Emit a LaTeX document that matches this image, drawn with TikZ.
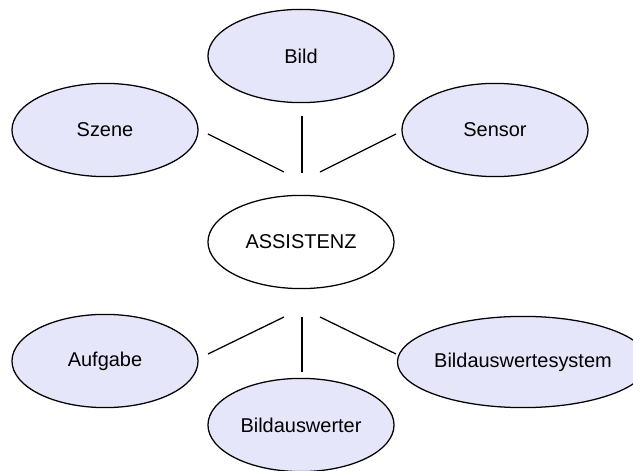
\documentclass[tikz,border=0pt]{standalone}
\usepackage{fontspec}
\setmainfont{Liberation Sans}
\usetikzlibrary{shapes.geometric}
\definecolor{leaffill}{RGB}{230,230,250}
\tikzset{
  hubnode/.style={draw, ellipse, line width=0.9pt, fill=white, inner sep=0pt, minimum width=4.65cm, minimum height=2.33cm, align=center},
  leafnode/.style={hubnode, fill=leaffill},
  spoke/.style={line width=0.9pt}
}

\begin{document}
\begin{tikzpicture}[x=0.025cm, y=-0.025cm, every node/.style={font=\fontsize{14.2}{17}\selectfont}]
  \clip (0,0) rectangle (633,471);
  % centre and the six topics round it
  \node[hubnode] (hub) at (301,242) {ASSISTENZ};
  \node[leafnode] (bild) at (301,56) {Bild};
  \node[leafnode] (szene) at (105,130) {Szene};
  \node[leafnode] (sensor) at (495,130) {Sensor};
  \node[leafnode] (aufgabe) at (105,361) {Aufgabe};
  \node[leafnode] (auswerter) at (301,425) {Bildauswerter};
  \node[leafnode, minimum width=6.05cm, minimum height=2.28cm] (system) at (523,362) {Bildauswertesystem};

  % spoke ends, kept clear of the ellipses
  \coordinate (bild-e) at (302,116);   \coordinate (hub-n) at (302,173);
  \coordinate (szene-e) at (208,134);  \coordinate (hub-nw) at (284,172);
  \coordinate (sensor-e) at (396,134); \coordinate (hub-ne) at (320,172);
  \coordinate (aufgabe-e) at (208,354);   \coordinate (hub-sw) at (284,317);
  \coordinate (auswerter-e) at (302,372); \coordinate (hub-s) at (302,317);
  \coordinate (system-e) at (396,354);    \coordinate (hub-se) at (320,317);

  \draw[spoke] (bild-e) -- (hub-n);
  \draw[spoke] (szene-e) -- (hub-nw);
  \draw[spoke] (sensor-e) -- (hub-ne);
  \draw[spoke] (aufgabe-e) -- (hub-sw);
  \draw[spoke] (auswerter-e) -- (hub-s);
  \draw[spoke] (system-e) -- (hub-se);
\end{tikzpicture}
\end{document}
